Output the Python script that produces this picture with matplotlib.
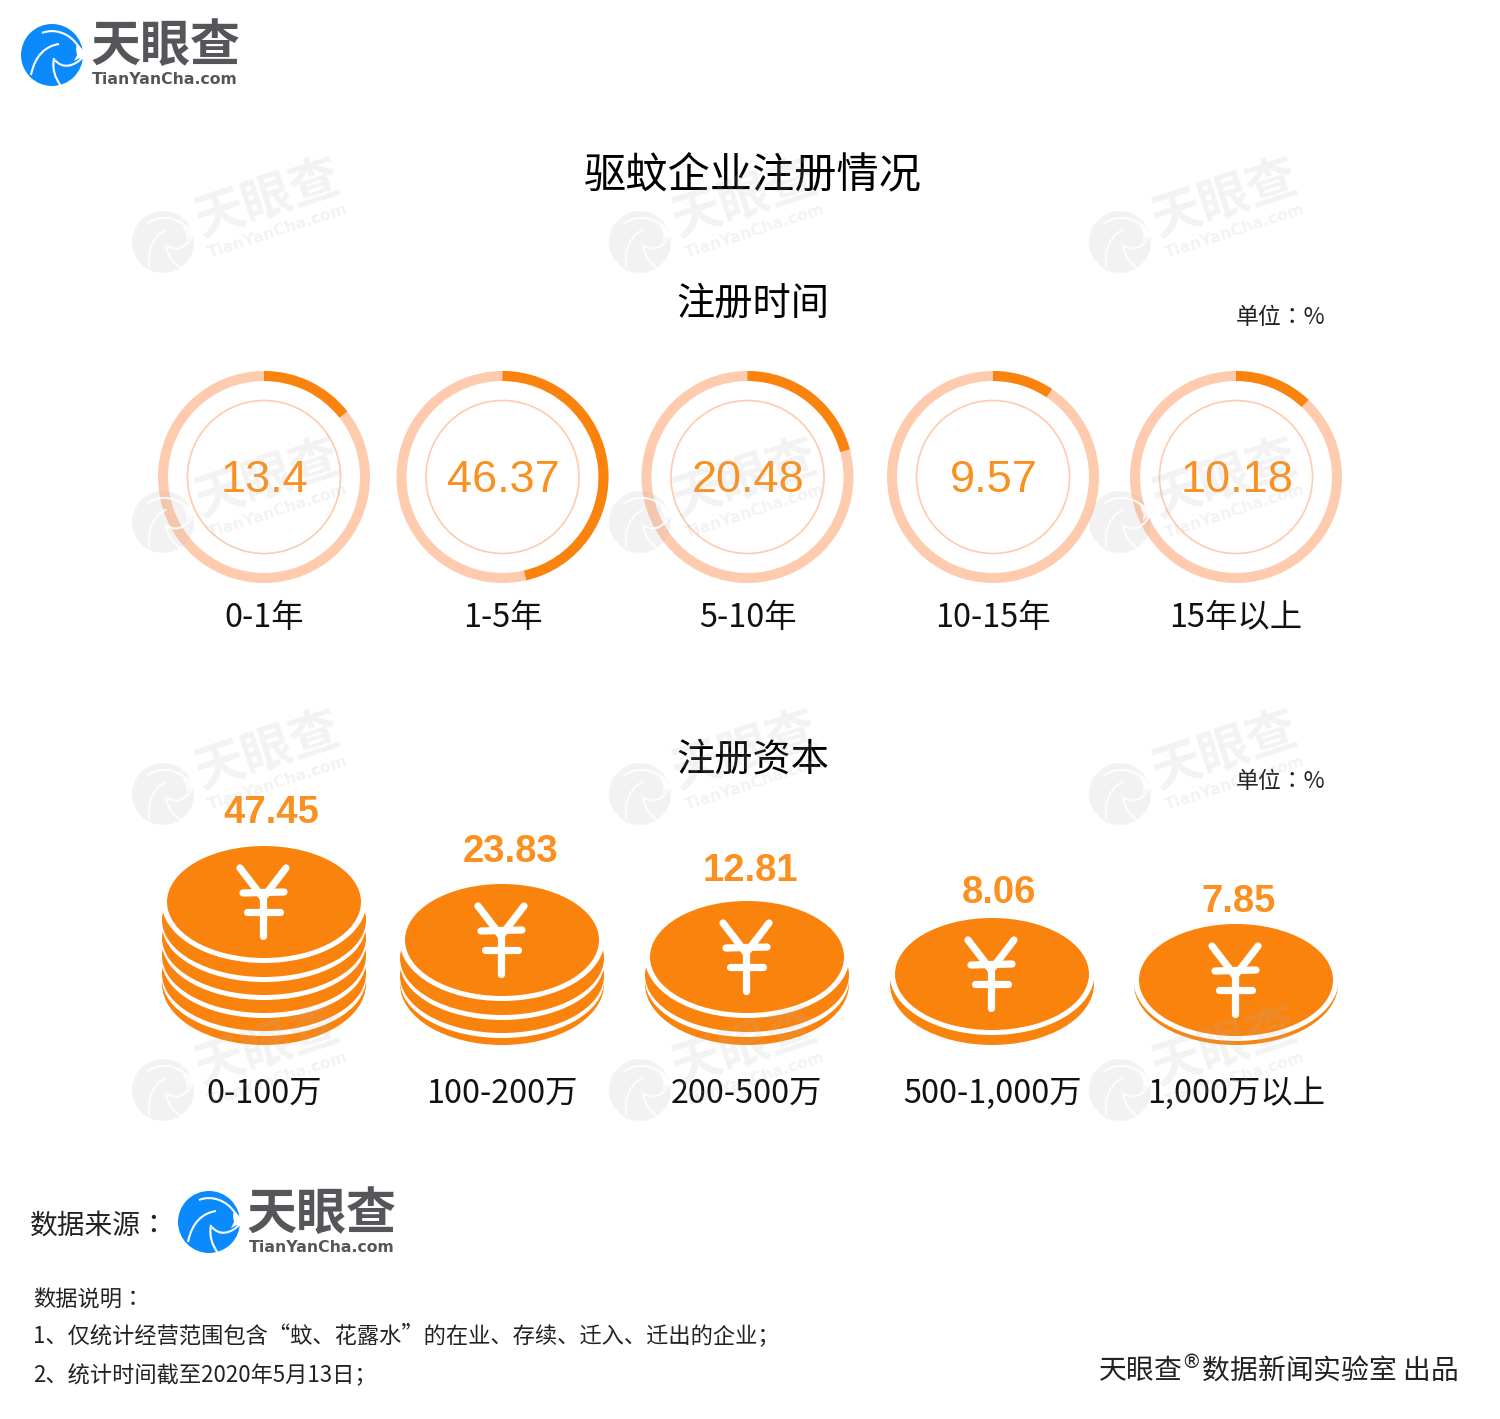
import matplotlib
matplotlib.use("Agg")
import matplotlib.pyplot as plt
from matplotlib.patches import Ellipse, Wedge, Circle, PathPatch, Polygon
from matplotlib.path import Path
from matplotlib.transforms import Affine2D
import numpy as np

plt.rcParams['font.family'] = ['Noto Sans CJK SC', 'DejaVu Sans']

# data
age_labels = ["0-1年", "1-5年", "5-10年", "10-15年", "15年以上"]
age_texts = ["13.4", "46.37", "20.48", "9.57", "10.18"]
# share of the ring that is dark (a bit off the printed values)
ring_shares = [14.4, 46.4, 20.8, 9.4, 12.0]
capital_labels = ["0-100万", "100-200万", "200-500万", "500-1,000万", "1,000万以上"]
capital_texts = ["47.45", "23.83", "12.81", "8.06", "7.85"]
coin_layers = [5, 3, 2, 1, 1]

# layout, in pixels
ring_x = [264, 502.5, 747.5, 993, 1236]
coin_x = [264, 502, 747, 992, 1236]
coin_y = [902, 940, 957, 974, 980]
value_x = [271, 510, 750, 999, 1239]
value_y = [813, 852, 871, 893, 902]
mark_x = [163, 640, 1120]
mark_y = [242, 522, 794, 1090]

ORANGE = "#fa830e"
LIGHT = "#fecbae"
TEXT_ORANGE = "#fa9020"
BLUE = "#0a8afc"
GREY = "#55565a"
TC = ['Noto Sans CJK TC', 'DejaVu Sans']

fig = plt.figure(figsize=(15, 14.19), dpi=100)
ax = fig.add_axes((0, 0, 1, 1))
ax.set_xlim(0, 1500)
ax.set_ylim(1419, 0)
ax.axis("off")


def draw_logo(cx, cy, rot=0, color=BLUE, grey=GREY, alpha=1.0, z=5):
    """Logo with the circle centre at cx, cy. rot in degrees, counter clockwise on screen."""
    tr = Affine2D().rotate_deg(-rot).translate(cx, cy) + ax.transData
    cut = 1.0 if alpha == 1.0 else 0.85

    ax.add_patch(Circle((0, 0), 31, fc=color, ec="none", alpha=alpha, transform=tr, zorder=z))
    # white channel on the right side of the swirl
    notch = [(25, -12), (31, -5), (33, 4), (28, 3), (22, 6), (25, 0), (24, -6)]
    ax.add_patch(Polygon(notch, fc="white", ec="none", alpha=cut, transform=tr, zorder=z + 1))
    curves = [[(-10, -22), (2, -27), (18, -22), (26, -9)],
              [(-21, 20), (-17, 0), (-6, -9), (7, -11)],
              [(2, 3), (0, 14), (3, 23), (9, 31)],
              [(3, 5), (10, 14), (22, 12), (31, 2)]]
    for c in curves:
        p = Path(c, [1, 4, 4, 4])
        ax.add_patch(PathPatch(p, fc="none", ec="white", lw=1.5, alpha=cut, transform=tr, zorder=z + 1))

    a = np.deg2rad(rot)
    def place(dx, dy):
        return (cx + dx * np.cos(a) + dy * np.sin(a), cy - dx * np.sin(a) + dy * np.cos(a))

    x1, y1 = place(113, -8)
    ax.text(x1, y1, "天眼查", fontsize=36, fontweight="bold", color=grey, alpha=alpha, rotation=rot,
            rotation_mode="anchor", ha="center", va="center", zorder=z)
    x2, y2 = place(113, 25)
    ax.text(x2, y2, "TianYanCha.com", fontsize=11.3, fontweight="bold", color=grey, alpha=alpha,
            rotation=rot, rotation_mode="anchor", ha="center", va="center", zorder=z,
            family="DejaVu Sans")


# rings
for x, lab, val, txt in zip(ring_x, age_labels, ring_shares, age_texts):
    cy = 477
    ax.add_patch(Circle((x, cy), 101, fc="none", ec=LIGHT, lw=7.2, zorder=2))
    ax.add_patch(Circle((x, cy), 76.5, fc="none", ec=LIGHT, lw=1.2, zorder=2))
    ax.add_patch(Wedge((x, cy), 106, -90, -90 + val * 3.6, width=10, fc=ORANGE, ec="none", zorder=3))
    ax.text(x + 1, cy + 4, txt, fontsize=32.5, color=TEXT_ORANGE, family="Liberation Sans",
            ha="center", va="center", zorder=4)
    ax.text(x, 618, lab, fontsize=23.3, color="#111111", ha="center", va="center", zorder=4)

# coins
for x, cy, n, lab, val, vx, vy in zip(coin_x, coin_y, coin_layers, capital_labels, capital_texts, value_x, value_y):
    # bottom of every stack sits on the same line
    ax.add_patch(Ellipse((x, 984), 204, 122, fc=ORANGE, ec="none", zorder=2))
    for k in range(n - 1, 0, -1):
        ax.add_patch(Ellipse((x, cy + 18 * k + 5), 204, 114, fc="white", ec="none", zorder=2))
        ax.add_patch(Ellipse((x, cy + 18 * k), 204, 114, fc=ORANGE, ec="none", zorder=2))
    ax.add_patch(Ellipse((x, cy), 205, 122, fc="white", ec="none", zorder=2))
    ax.add_patch(Ellipse((x, cy), 194, 112, fc=ORANGE, ec="none", zorder=2))

    # yen sign
    strokes = [((-24, -34), (-1, -4)), ((22, -34), (-1, -4)), ((-1, -4), (-1, 34)),
               ((-21, -9), (20, -10)), ((-17, 10), (16, 10))]
    for (x0, y0), (x1, y1) in strokes:
        ax.plot([x + x0, x + x1], [cy + y0, cy + y1], color="white", lw=5.2,
                solid_capstyle="round", zorder=3)

    ax.text(vx, vy, val, fontsize=27.5, fontweight="bold", color=TEXT_ORANGE,
            family="Liberation Sans", ha="center", va="center", zorder=4)
    ax.text(x, 1094, lab, fontsize=23.3, color="#111111", ha="center", va="center", zorder=4)

# titles
ax.text(753, 176, "驱蚊企业注册情况", fontsize=30.4, color="black", ha="center", va="center", zorder=4)
ax.text(753, 304, "注册时间", fontsize=27.5, color="black", ha="center", va="center", zorder=4)
ax.text(753, 760, "注册资本", fontsize=27.5, color="black", ha="center", va="center", zorder=4)
ax.text(1281, 317, "单位：%", fontsize=16.5, color="#222222", ha="center", va="center", zorder=4, family=TC)
ax.text(1281, 781, "单位：%", fontsize=16.5, color="#222222", ha="center", va="center", zorder=4, family=TC)

# logos
draw_logo(52, 55)
draw_logo(209, 1222)
ax.text(30, 1226, "数据来源：", fontsize=20, color="#222222", ha="left", va="center", zorder=4, family=TC)

# footer
ax.text(33, 1300, "数据说明：", fontsize=16, color="#222222", ha="left", va="center", zorder=4, family=TC)
ax.text(33, 1335, "1、仅统计经营范围包含“蚊、花露水”的在业、存续、迁入、迁出的企业；", fontsize=16,
        color="#222222", ha="left", va="center", zorder=4)
ax.text(33, 1376, "2、统计时间截至2020年5月13日；", fontsize=16, color="#222222", ha="left", va="center", zorder=4)
ax.text(1458, 1370, "天眼查$^{®}$数据新闻实验室 出品", fontsize=20, color="#222222", ha="right", va="center", zorder=4)

# watermarks
for my in mark_y:
    for mx in mark_x:
        draw_logo(mx, my, rot=18, color="#b4b4b4", grey="#b4b4b4", alpha=0.16, z=6)

fig.savefig("out.png", dpi=100, facecolor="white")
